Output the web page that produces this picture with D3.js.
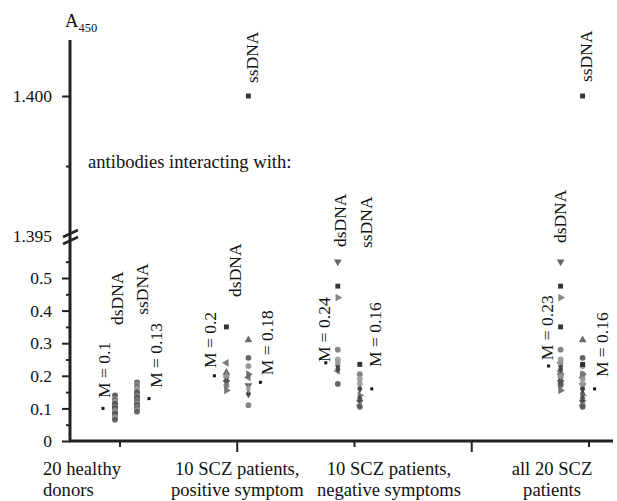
<!DOCTYPE html>
<html>
<head>
<meta charset="utf-8">
<script src="https://cdn.jsdelivr.net/npm/d3@7"></script>
<style>
  body { margin: 0; background: #fff; }
  svg text { font-family: "Liberation Serif", "Times New Roman", serif; fill: #111; }
</style>
</head>
<body>
<svg id="chart" width="617" height="501"></svg>
<script>
// A450 readings, one value per donor / patient
var groups = ["healthy", "positive", "negative", "gap", "all"];
var groupLines = [["20 healthy", "donors"], ["10 SCZ patients,", "positive symptom"],
                  ["10 SCZ patients,", "negative symptoms"], [], ["all 20 SCZ", "patients"]];

var healthyDs = [0.14, 0.13, 0.125, 0.12, 0.115, 0.11, 0.105, 0.10, 0.10, 0.10,
                 0.10, 0.095, 0.09, 0.09, 0.085, 0.08, 0.075, 0.07, 0.07, 0.065];
var healthySs = [0.18, 0.175, 0.165, 0.16, 0.15, 0.145, 0.14, 0.135, 0.13, 0.13,
                 0.13, 0.125, 0.12, 0.115, 0.11, 0.11, 0.105, 0.10, 0.095, 0.09];
var positiveDs = [0.35, 0.24, 0.21, 0.20, 0.195, 0.185, 0.18, 0.17, 0.155, 0.20];
var positiveSs = [1.400, 0.195, 0.31, 0.255, 0.23, 0.145, 0.17, 0.11, 0.205, 0.16];
var negativeDs = [0.55, 0.475, 0.44, 0.28, 0.25, 0.23, 0.215, 0.175, 0.24, 0.22];
var negativeSs = [0.12, 0.235, 0.14, 0.205, 0.19, 0.16, 0.11, 0.105, 0.175, 0.13];
// the "all 20" columns are the two patient groups together
var allDs = positiveDs.concat(negativeDs);
var allSs = positiveSs.concat(negativeSs);

var medianDs = [0.1, 0.2, 0.24, null, 0.23];
var medianSs = [0.13, 0.18, 0.16, null, 0.16];

var lowTicks = [0, 0.1, 0.2, 0.3, 0.4, 0.5];
var lowMinor = [0.05, 0.15, 0.25, 0.35, 0.45, 0.55];
var highTicks = [1.395, 1.400];
var highMinor = [1.3975];

// ---------------------------------------------------------------
var svg = d3.select("#chart");
var FONT = 17.5, FONT_H = 18.6;

var yLow = d3.scaleLinear().domain([0, 0.5]).range([441, 278]);
var yHigh = d3.scaleLinear().domain([1.395, 1.400]).range([236, 96]);
function y(v) { return v >= 1 ? yHigh(v) : yLow(v); }

var xTick = d3.scalePoint().domain(groups).range([120, 589]);
var xGroup = d3.scalePoint().domain(groups).range([126, 571.6]);
var colOff = { ds: -11, ss: 11 };
function colX(g, c) { return xGroup(g) + colOff[c]; }

// marker styles per patient
var posShapes = ["square", "triLeft", "triUp", "circle", "circle", "diamond", "triDown", "circle", "triRight", "diamond"];
var posFill = ["#1e1e1e", "#6a6a6a", "#5c5c5c", "#555", "#8c8c8c", "#333", "#555", "#777", "#666", "#999"];
var negShapes = ["triDown", "square", "triRight", "circle", "circle", "diamond", "triLeft", "circle", "circle", "diamond"];
var negFill = ["#555", "#1e1e1e", "#777", "#777", "#999", "#333", "#888", "#555", "#999", "#444"];
var healthyFill = ["#4d4d4d", "#8a8a8a", "#666", "#a0a0a0", "#5a5a5a"];

function symbolPath(shape) {
  var t = d3.symbolCircle, s = 26;
  if (shape === "square") { t = d3.symbolSquare; s = 24; }
  if (shape === "diamond") { t = d3.symbolDiamond; s = 24; }
  if (shape.indexOf("tri") === 0) { t = d3.symbolTriangle; s = 26; }
  return d3.symbol().type(t).size(s)();
}
function symbolRot(shape) {
  return { triDown: 180, triLeft: -90, triRight: 90 }[shape] || 0;
}

var points = [];
function addCol(g, c, vals, shapes, fills) {
  vals.forEach(function (v, i) {
    points.push({ g: g, c: c, v: v, shape: shapes ? shapes[i % shapes.length] : "circle",
                  fill: fills[i % fills.length] });
  });
}
addCol("healthy", "ds", healthyDs, null, healthyFill);
addCol("healthy", "ss", healthySs, null, healthyFill);
addCol("positive", "ds", positiveDs, posShapes, posFill);
addCol("positive", "ss", positiveSs, posShapes, posFill);
addCol("negative", "ds", negativeDs, negShapes, negFill);
addCol("negative", "ss", negativeSs, negShapes, negFill);
addCol("all", "ds", allDs, posShapes.concat(negShapes), posFill.concat(negFill));
addCol("all", "ss", allSs, posShapes.concat(negShapes), posFill.concat(negFill));

// ---- axes ----
var axisG = svg.append("g");
var majL = d3.axisLeft(yLow).tickValues(lowTicks).tickSize(8).tickPadding(10)
  .tickFormat(function (d) { return d === 0 ? "0" : d3.format(".1f")(d); });
var minL = d3.axisLeft(yLow).tickValues(lowMinor).tickSize(4).tickFormat("");
var majH = d3.axisLeft(yHigh).tickValues(highTicks).tickSize(8).tickPadding(10)
  .tickFormat(d3.format(".3f"));
var minH = d3.axisLeft(yHigh).tickValues(highMinor).tickSize(4).tickFormat("");

[majL, minL, majH, minH].forEach(function (ax) {
  var g = axisG.append("g").attr("transform", "translate(70,0)").call(ax);
  g.select(".domain").remove();
  g.selectAll("line").attr("stroke", "#222").attr("stroke-width", 2);
  g.selectAll("text").attr("font-size", FONT).attr("fill", "#111")
    .attr("font-family", "Liberation Serif, serif");
});
// 1.395 tick is replaced by the break marks
axisG.selectAll("g.tick").filter(function (d) { return d === 1.395; }).select("line").remove();

axisG.append("line").attr("x1", 70).attr("x2", 70).attr("y1", 40).attr("y2", 442)
  .attr("stroke", "#222").attr("stroke-width", 3);
axisG.append("line").attr("x1", 69).attr("x2", 613).attr("y1", 441).attr("y2", 441)
  .attr("stroke", "#222").attr("stroke-width", 3);

// axis break
[0, 7].forEach(function (o) {
  axisG.append("line").attr("x1", 63).attr("y1", 237 + o).attr("x2", 78).attr("y2", 230 + o)
    .attr("stroke", "#222").attr("stroke-width", 2.5);
});

// x ticks
groups.forEach(function (g, i) {
  axisG.append("line").attr("x1", xTick(g)).attr("x2", xTick(g))
    .attr("y1", 441).attr("y2", i % 2 ? 452 : 447)
    .attr("stroke", "#222").attr("stroke-width", 2);
});

// y label A450
var yl = svg.append("text").attr("x", 65).attr("y", 27).attr("font-size", FONT_H);
yl.append("tspan").text("A");
yl.append("tspan").attr("font-size", 12.5).attr("dy", 5).text("450");

// group labels
var labelAnchor = ["start", "middle", "middle", "middle", "middle"];
var labelX = [43, xTick("positive"), 389, 0, 552];
groupLines.forEach(function (lines, i) {
  lines.forEach(function (t, j) {
    svg.append("text").attr("x", labelX[i]).attr("y", 475 + j * 21)
      .attr("text-anchor", labelAnchor[i]).attr("font-size", FONT_H).text(t);
  });
});

svg.append("text").attr("x", 88).attr("y", 168).attr("font-size", FONT_H)
  .text("antibodies interacting with:");

// ---- points ----
svg.append("g").selectAll("path").data(points).join("path")
  .attr("d", function (d) { return symbolPath(d.shape); })
  .attr("transform", function (d) {
    return "translate(" + colX(d.g, d.c) + "," + y(d.v) + ") rotate(" + symbolRot(d.shape) + ")";
  })
  .attr("fill", function (d) { return d.fill; })
  .attr("fill-opacity", 0.9);

// median markers
var meds = [];
groups.forEach(function (g, i) {
  if (medianDs[i] != null) meds.push({ g: g, c: "ds", v: medianDs[i], x: colX(g, "ds") - 12 });
  if (medianSs[i] != null) meds.push({ g: g, c: "ss", v: medianSs[i], x: colX(g, "ss") + 12 });
});
svg.append("g").selectAll("rect").data(meds).join("rect")
  .attr("x", function (d) { return d.x - 1.5; })
  .attr("y", function (d) { return y(d.v) - 1.5; })
  .attr("width", 3).attr("height", 3).attr("fill", "#111");

// ---- rotated annotations (baseline offset from column, bottom at value v) ----
var notes = [
  { g: "healthy", c: "ds", t: "dsDNA", dx: 8, v: 0.356 },
  { g: "healthy", c: "ss", t: "ssDNA", dx: 11, v: 0.387 },
  { g: "healthy", c: "ds", t: "M = 0.1", dx: -5, v: 0.132 },
  { g: "healthy", c: "ss", t: "M = 0.13", dx: 25, v: 0.163 },
  { g: "positive", c: "ds", t: "dsDNA", dx: 14.6, v: 0.442 },
  { g: "positive", c: "ss", t: "ssDNA", dx: 10, v: 1.40046 },
  { g: "positive", c: "ds", t: "M = 0.2", dx: -10.5, v: 0.224 },
  { g: "positive", c: "ss", t: "M = 0.18", dx: 25, v: 0.202 },
  { g: "negative", c: "ds", t: "dsDNA", dx: 8, v: 0.595 },
  { g: "negative", c: "ss", t: "ssDNA", dx: 12, v: 0.592 },
  { g: "negative", c: "ds", t: "M = 0.24", dx: -8, v: 0.242 },
  { g: "negative", c: "ss", t: "M = 0.16", dx: 21, v: 0.227 },
  { g: "all", c: "ds", t: "dsDNA", dx: 5.4, v: 0.607 },
  { g: "all", c: "ss", t: "ssDNA", dx: 9.4, v: 1.4005 },
  { g: "all", c: "ds", t: "M = 0.23", dx: -8, v: 0.248 },
  { g: "all", c: "ss", t: "M = 0.16", dx: 25, v: 0.196 }
];
svg.append("g").selectAll("text").data(notes).join("text")
  .attr("font-size", FONT)
  .attr("transform", function (d) {
    return "translate(" + (colX(d.g, d.c) + d.dx) + "," + y(d.v) + ") rotate(-90)";
  })
  .text(function (d) { return d.t; });
</script>
</body>
</html>
